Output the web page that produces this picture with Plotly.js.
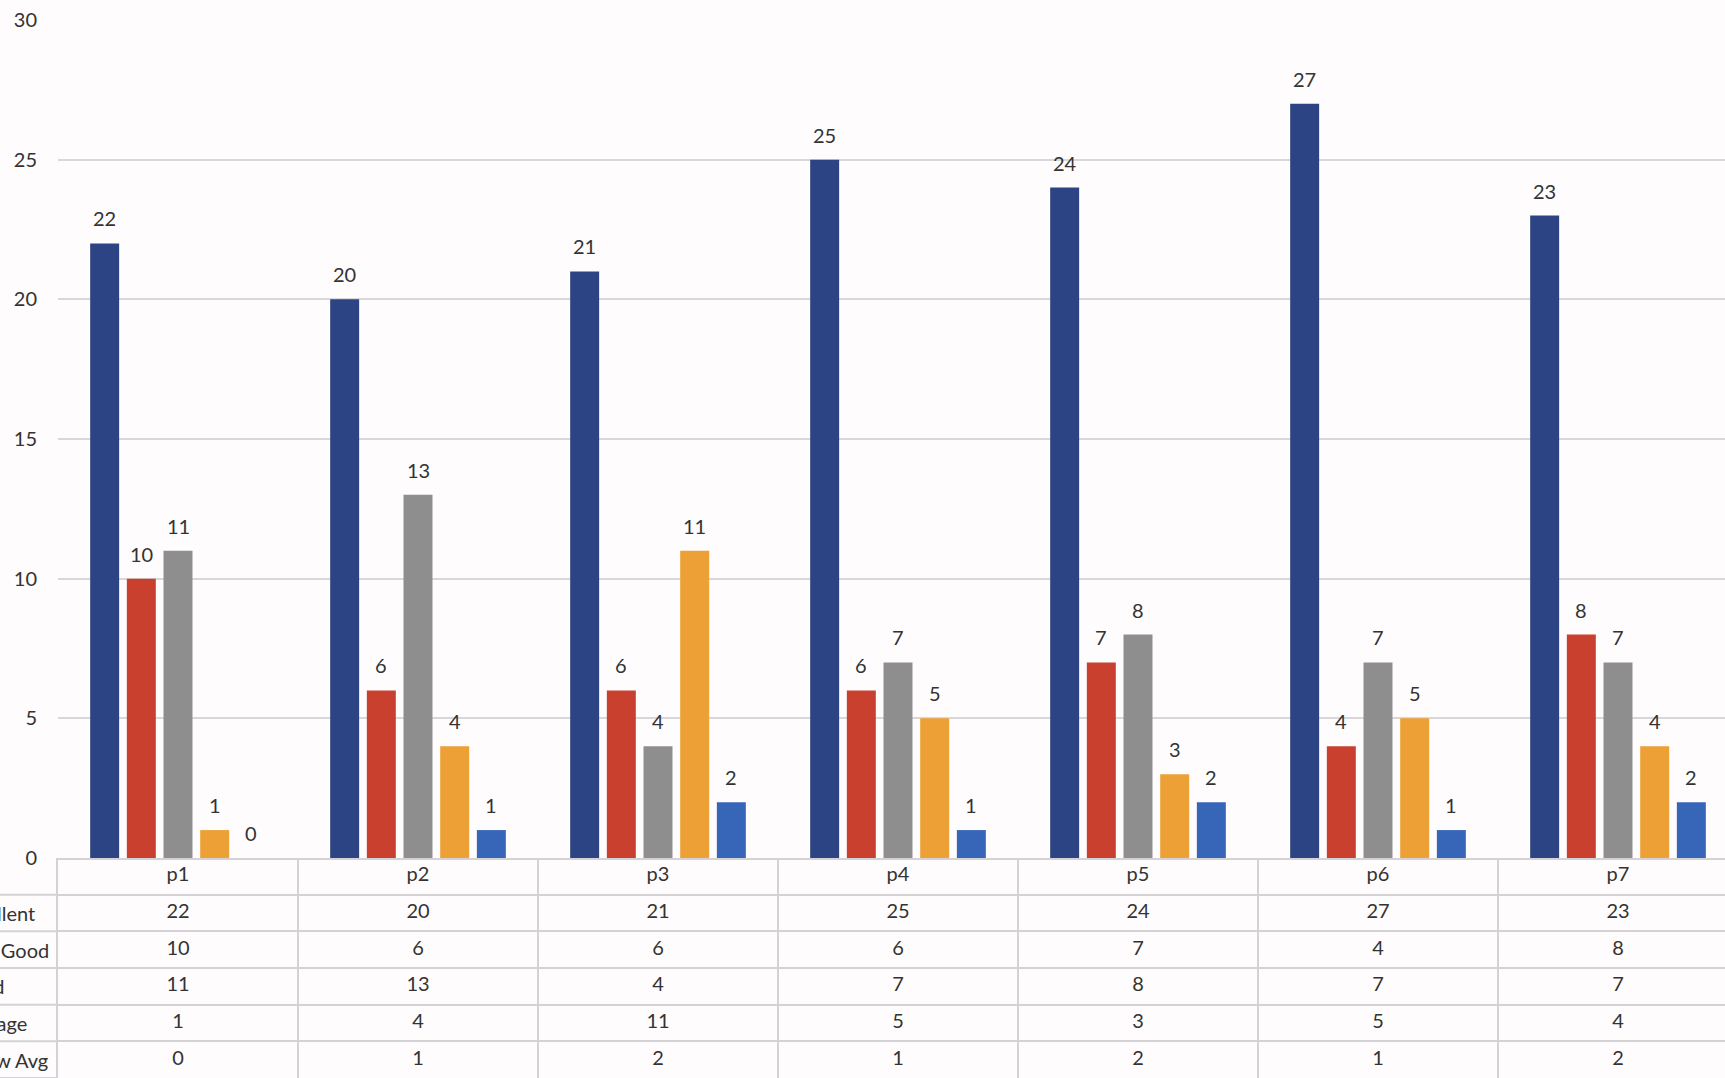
<!DOCTYPE html>
<html>
<head>
<meta charset="utf-8">
<script src="https://cdn.plot.ly/plotly-3.0.1.min.js"></script>
<style>html,body{margin:0;padding:0;background:#fefcfd;}#chart{width:1725px;height:1078px;}</style>
</head>
<body>
<div id="chart"></div>
<script>
// ---- data ----
const categories = ['p1', 'p2', 'p3', 'p4', 'p5', 'p6', 'p7'];
const seriesNames = ['Excellent', 'Very Good', 'Good', 'Average', 'Below Avg'];
const excellent = [22, 20, 21, 25, 24, 27, 23];
const veryGood  = [10, 6, 6, 6, 7, 4, 8];
const good      = [11, 13, 4, 7, 8, 7, 7];
const average   = [1, 4, 11, 5, 3, 5, 4];
const belowAvg  = [0, 1, 2, 1, 2, 1, 2];
const yTicks    = [0, 5, 10, 15, 20, 25, 30];

// ---- style ----
const seriesValues = [excellent, veryGood, good, average, belowAvg];
const colors = ['#2c4384', '#c9402f', '#8f8e8f', '#eda035', '#3766b9'];
const W = 1725, H = 1078;
const M = {l: 58, r: 0, t: 20, b: 0};
const plotW = W - M.l - M.r, plotH = H - M.t - M.b;
const catPx = 240;
const xRange = [-0.5, -0.5 + plotW / catPx];
const tableRows = 6;
const d2 = 220 / plotH;              // top of table domain (paper)
const bargap = 0.236, bargroupgap = 0.21;
const pitch = catPx * (1 - bargap) / seriesNames.length;
const font = 'Lato, "Open Sans", sans-serif';
const textColor = '#333333';
const lineColor = '#d4d2d4';

const traces = seriesNames.map((name, i) => ({
  type: 'bar', name: name, x: categories, y: seriesValues[i],
  marker: {color: colors[i]}, xaxis: 'x', yaxis: 'y', hoverinfo: 'x+y+name'
}));

// table text
const tx = [], ty = [], tt = [];
categories.forEach((c, j) => { tx.push(j); ty.push(0.5); tt.push(c); });
seriesValues.forEach((vals, i) => vals.forEach((v, j) => { tx.push(j); ty.push(i + 1.5); tt.push(String(v)); }));
traces.push({
  type: 'scatter', mode: 'text', x: tx, y: ty, text: tt, xaxis: 'x2', yaxis: 'y2',
  textfont: {family: font, size: 20, color: textColor}, hoverinfo: 'skip', showlegend: false
});

const annotations = [];
seriesValues.forEach((vals, i) => vals.forEach((v, j) => {
  annotations.push({
    xref: 'x', yref: 'y', x: categories[j], y: v, text: String(v), showarrow: false,
    xanchor: 'center', yanchor: 'bottom', xshift: (i - (seriesNames.length - 1) / 2) * pitch, yshift: 11,
    font: {family: font, size: 20, color: textColor}
  });
}));
seriesNames.forEach((n, i) => {
  annotations.push({
    xref: 'paper', yref: 'y2', x: 0, y: i + 1.5, xanchor: 'left', yanchor: 'middle', xshift: -104,
    text: n, showarrow: false, font: {family: font, size: 20, color: textColor}
  });
});

const shapes = [];
for (let k = 1; k <= tableRows; k++) {
  const yy = d2 * (tableRows - k) / tableRows;
  shapes.push({type: 'line', xref: 'paper', yref: 'paper', x0: -M.l / plotW, x1: 0, y0: yy, y1: yy,
    line: {color: lineColor, width: 2}});
}

const layout = {
  width: W, height: H, margin: M,
  paper_bgcolor: '#fefcfd', plot_bgcolor: 'rgba(0,0,0,0)',
  showlegend: false, barmode: 'group', bargap: bargap, bargroupgap: bargroupgap,
  font: {family: font, color: textColor},
  xaxis: {type: 'category', categoryarray: categories, range: xRange, showticklabels: false,
    showgrid: false, zeroline: false, showline: true, linecolor: lineColor, linewidth: 2, anchor: 'y', fixedrange: true},
  yaxis: {domain: [d2, 1], range: [0, 30], tickvals: yTicks, showgrid: true, gridcolor: '#d9d7d9', gridwidth: 2,
    zeroline: false, showline: false, ticks: '', ticklabelstandoff: 20,
    tickfont: {family: font, size: 20, color: textColor}, fixedrange: true},
  xaxis2: {anchor: 'y2', range: xRange, tickvals: categories.map((c, j) => j - 0.5).concat([categories.length - 0.5]),
    showgrid: true, gridcolor: lineColor, gridwidth: 2, showticklabels: false, zeroline: false, ticks: '', fixedrange: true},
  yaxis2: {anchor: 'x2', domain: [0, d2], range: [tableRows, 0], tickvals: [1, 2, 3, 4, 5, 6],
    showgrid: true, gridcolor: lineColor, gridwidth: 2, showticklabels: false, zeroline: false, ticks: '',
    showline: true, linecolor: lineColor, linewidth: 2, fixedrange: true},
  annotations: annotations, shapes: shapes
};

Plotly.newPlot('chart', traces, layout, {displayModeBar: false, staticPlot: true});
</script>
</body>
</html>
